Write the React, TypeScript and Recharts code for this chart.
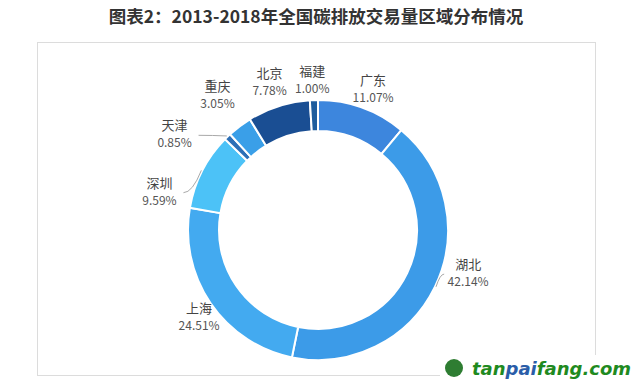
import { PieChart, Pie, Cell } from 'recharts'

const regions = ['广东', '湖北', '上海', '深圳', '天津', '重庆', '北京', '福建']
const shares = [11.07, 42.14, 24.51, 9.59, 0.85, 3.05, 7.78, 1.0]
const colors = ['#3d86dd', '#3c9be8', '#43aaf0', '#4cc2f7', '#2c6fb6', '#3a9fe8', '#1a4e93', '#1f5d9d']

// hand nudges so labels sit where the original has them
const labelShift: Record<string, [number, number]> = {
  广东: [4, 1],
  湖北: [15, -21],
  上海: [5, 3],
  深圳: [-25, 31],
  天津: [-39, 13],
  重庆: [-10, -14],
  北京: [-3, -4],
  福建: [-1, 1],
}
const withLine = ['深圳', '天津', '湖北']

const data = regions.map((name, i) => ({ name, value: shares[i] }))

const RAD = Math.PI / 180

function renderLabel(props: any) {
  const { cx, cy, midAngle, outerRadius, index } = props
  const name = regions[index]
  const r = outerRadius + 20
  const [dx, dy] = labelShift[name] || [0, 0]
  const x = cx + r * Math.cos(-midAngle * RAD) + dx
  const y = cy + r * Math.sin(-midAngle * RAD) + dy
  const side = x > cx ? 1 : -1
  const rx = cx + (outerRadius + 1) * Math.cos(-midAngle * RAD)
  const ry = cy + (outerRadius + 1) * Math.sin(-midAngle * RAD)
  const ex = x - side * 24
  return (
    <g>
      {withLine.includes(name) && (
        <path
          d={`M${rx},${ry} Q${(rx + ex) / 2},${y} ${ex},${y}`}
          stroke="#a9a9a9"
          fill="none"
          strokeWidth={1}
        />
      )}
      <text x={x} y={y - 5} textAnchor="middle" fontSize={13} fill="#444">
        {name}
      </text>
      <text x={x} y={y + 12} textAnchor="middle" fontSize={12} fill="#555">
        {shares[index].toFixed(2)}%
      </text>
    </g>
  )
}

export default function App() {
  return (
    <div
      style={{
        position: 'absolute',
        left: 0,
        top: 0,
        width: 640,
        height: 389,
        background: '#fff',
        fontFamily: '"Noto Sans CJK SC", "Noto Sans", sans-serif',
      }}
    >
      <div
        style={{
          position: 'absolute',
          left: 0,
          top: 3,
          width: 632,
          textAlign: 'center',
          fontSize: 17.5,
          fontWeight: 'bold',
          color: '#333',
        }}
      >
        图表2：2013-2018年全国碳排放交易量区域分布情况
      </div>
      <div
        style={{
          position: 'absolute',
          left: 37,
          top: 42,
          width: 557,
          height: 332,
          border: '1px solid #dcdcdc',
        }}
      />
      <div style={{ position: 'absolute', left: 0, top: 0 }}>
        <PieChart width={640} height={389} margin={{ top: 0, right: 0, bottom: 0, left: 0 }}>
          <Pie
            data={data}
            dataKey="value"
            nameKey="name"
            cx={318}
            cy={230}
            innerRadius={99}
            outerRadius={130}
            startAngle={90}
            endAngle={-270}
            stroke="#fff"
            strokeWidth={2}
            label={renderLabel}
            labelLine={false}
            isAnimationActive={false}
          >
            {data.map((d, i) => (
              <Cell key={d.name} fill={colors[i]} />
            ))}
          </Pie>
        </PieChart>
      </div>
      <div
        style={{
          position: 'absolute',
          left: 440,
          top: 355,
          height: 26,
          width: 200,
          display: 'flex',
          alignItems: 'center',
          background: '#fff',
        }}
      >
        <div
          style={{
            width: 18,
            height: 18,
            borderRadius: 9,
            background: '#2e7d32',
            marginLeft: 5,
            marginRight: 9,
          }}
        />
        <span
          style={{
            fontFamily: '"DejaVu Sans", sans-serif',
            fontWeight: 'bold',
            fontStyle: 'italic',
            fontSize: 18,
            color: '#1f8a1f',
          }}
        >
          tan<span style={{ color: '#2a5da8' }}>pai</span>fang.com
        </span>
      </div>
    </div>
  )
}
